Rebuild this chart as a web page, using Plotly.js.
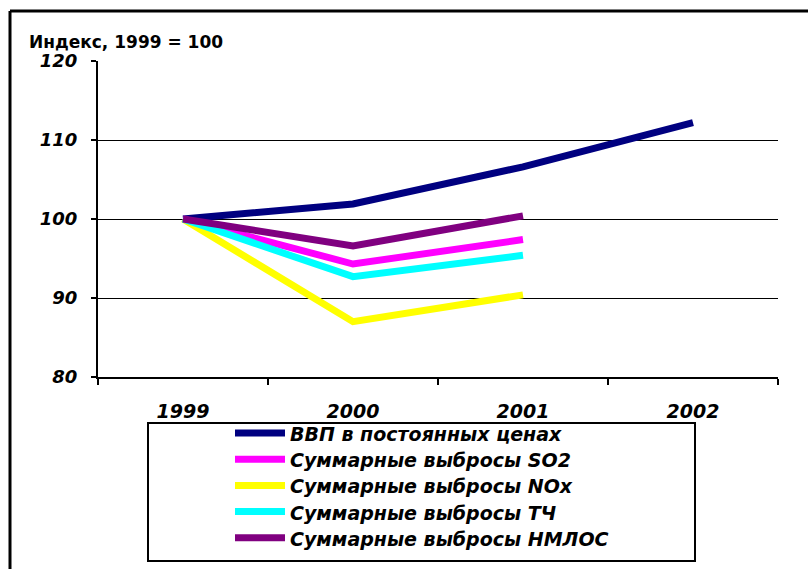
<!DOCTYPE html>
<html>
<head>
<meta charset="utf-8">
<script src="https://cdn.plot.ly/plotly-3.0.1.min.js"></script>
<style>html,body{margin:0;padding:0;background:#fff;}#chart{width:808px;height:569px;}</style>
</head>
<body>
<div id="chart"></div>
<script>
const years = ['1999', '2000', '2001', '2002'];
const seriesNames = ['ВВП в постоянных ценах', 'Суммарные выбросы SO2', 'Суммарные выбросы NOx', 'Суммарные выбросы ТЧ', 'Суммарные выбросы НМЛОС'];
const gdp = [100, 101.9, 106.6, 112.2];
const so2 = [100, 94.3, 97.4];
const nox = [100, 87.0, 90.4];
const pm = [100, 92.7, 95.4];
const nmvoc = [100, 96.6, 100.4];
const colors = ['#000080', '#FF00FF', '#FFFF00', '#00FFFF', '#800080'];
const yTitle = 'Индекс, 1999 = 100';

const allSeries = [gdp, so2, nox, pm, nmvoc];
const FONT = 'DejaVu Sans, Verdana, sans-serif';

// plot area in pixels: x 98..778, y 61..377
const W = 808, H = 569, L = 98, R = 778, T = 61, B = 377;
const px = x => (x - L) / (R - L);
const py = y => (B - y) / (B - T);

const traces = allSeries.map((s, i) => ({
  type: 'scatter', mode: 'lines',
  x: years.slice(0, s.length), y: s,
  name: seriesNames[i],
  line: {color: colors[i], width: 7},
  showlegend: false, hoverinfo: 'skip'
}));

const shapes = [
  {type: 'line', xref: 'paper', yref: 'paper', x0: px(10), x1: px(820), y0: py(11), y1: py(11), line: {color: '#000', width: 3}},
  {type: 'line', xref: 'paper', yref: 'paper', x0: px(10), x1: px(10), y0: py(11), y1: py(580), line: {color: '#000', width: 3}},
  {type: 'rect', xref: 'paper', yref: 'paper', x0: px(148), x1: px(695), y0: py(561), y1: py(423), line: {color: '#000', width: 2}, fillcolor: 'rgba(0,0,0,0)'}
];
const annotations = [
  {xref: 'paper', yref: 'paper', x: px(27), y: py(42), xanchor: 'left', yanchor: 'middle', showarrow: false,
   text: yTitle, font: {family: FONT, size: 17, color: '#000', weight: 'bold'}}
];
seriesNames.forEach((n, i) => {
  const yy = 433 + 26.2 * i;
  shapes.push({type: 'line', xref: 'paper', yref: 'paper', x0: px(235), x1: px(285), y0: py(yy), y1: py(yy),
    line: {color: colors[i], width: 7}});
  annotations.push({xref: 'paper', yref: 'paper', x: px(288), y: py(yy + 1), xanchor: 'left', yanchor: 'middle', showarrow: false,
    text: n, font: {family: FONT, size: 19, color: '#000', weight: 'bold', style: 'italic'}});
});

const layout = {
  width: W, height: H,
  margin: {l: L, r: W - R, t: T, b: H - B, pad: 0},
  paper_bgcolor: '#fff', plot_bgcolor: '#fff',
  showlegend: false,
  xaxis: {
    type: 'category', range: [-0.5, 3.5], tickson: 'boundaries',
    showline: true, linecolor: '#000', linewidth: 2,
    ticks: 'outside', ticklen: 6, tickwidth: 2, tickcolor: '#000',
    showgrid: false, zeroline: false, fixedrange: true,
    ticklabelstandoff: 16,
    tickfont: {family: FONT, size: 19, color: '#000', weight: 'bold', style: 'italic'}
  },
  yaxis: {
    range: [80, 120], tickvals: [80, 90, 100, 110, 120],
    showline: true, linecolor: '#000', linewidth: 2,
    ticks: 'outside', ticklen: 5, tickwidth: 2, tickcolor: '#000',
    showgrid: true, gridcolor: '#000', gridwidth: 1,
    zeroline: false, fixedrange: true,
    ticklabelstandoff: 10,
    tickfont: {family: FONT, size: 18, color: '#000', weight: 'bold', style: 'italic'}
  },
  shapes: shapes,
  annotations: annotations
};

Plotly.newPlot('chart', traces, layout, {staticPlot: true, displayModeBar: false});
</script>
</body>
</html>
